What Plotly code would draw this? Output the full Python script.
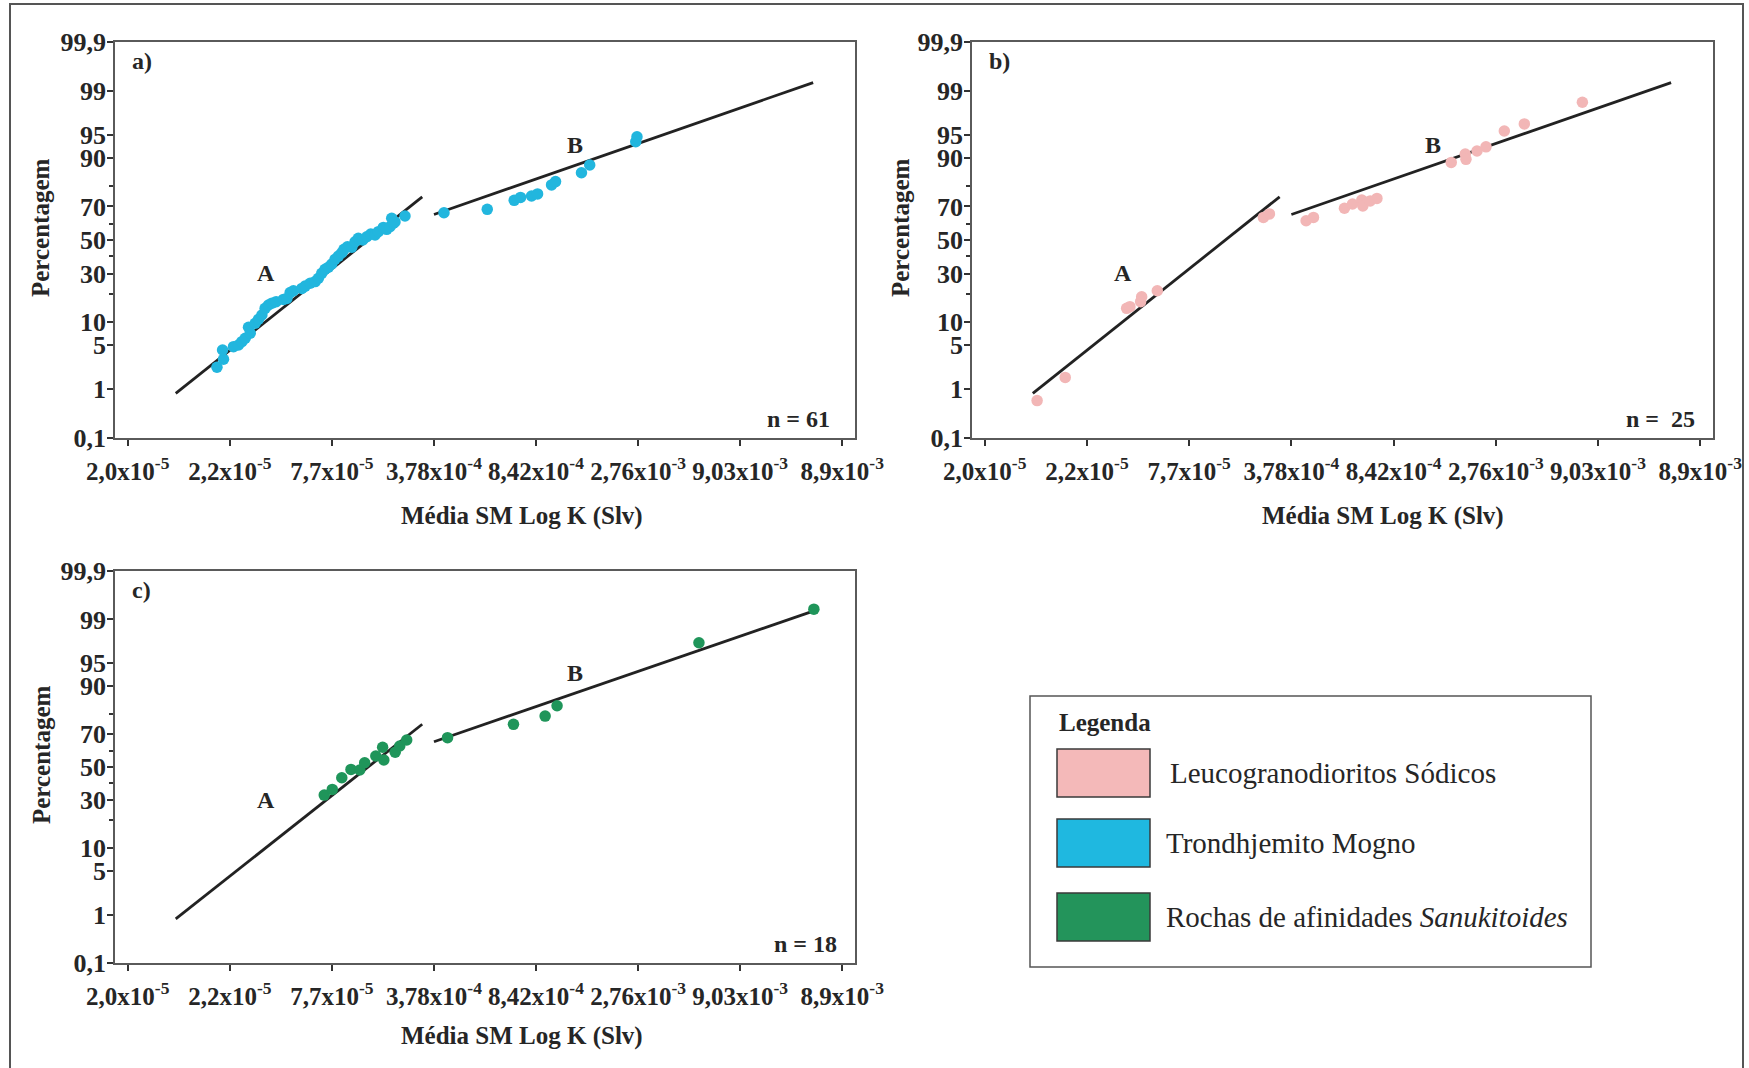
import plotly.graph_objects as go
from statistics import NormalDist

# ---------------- data ----------------
X_TICK_TEXT = ["2,0x10<sup>-5</sup>", "2,2x10<sup>-5</sup>", "7,7x10<sup>-5</sup>", "3,78x10<sup>-4</sup>",
               "8,42x10<sup>-4</sup>", "2,76x10<sup>-3</sup>", "9,03x10<sup>-3</sup>", "8,9x10<sup>-3</sup>"]
X_TICK_POS = [0, 1, 2, 3, 4, 5, 6, 7]
Y_TICK_PCT = [0.1, 1, 5, 10, 30, 50, 70, 90, 95, 99, 99.9]
Y_TICK_TEXT = ["0,1", "1", "5", "10", "30", "50", "70", "90", "95", "99", "99,9"]
Y_MINOR_PCT = [20, 40, 60, 80]

# a) Trondhjemito Mogno (n = 61)
a_x = [0.874, 0.938, 0.929, 1.036, 1.085, 1.118, 1.151, 1.183, 1.200, 1.249,
       1.281, 1.314, 1.346, 1.379, 1.412, 1.454, 1.525, 1.559, 1.591, 1.623,
       1.706, 1.738, 1.787, 1.836, 1.868, 1.901, 1.933, 1.966, 1.999, 2.031,
       2.064, 2.097, 2.119, 2.152, 2.195, 2.227, 2.259, 2.302, 2.342, 2.381,
       2.423, 2.455, 2.504, 2.537, 2.569, 2.586, 2.602, 2.618, 2.716,
       3.098, 3.522, 3.786, 3.848, 3.956, 4.015, 4.152, 4.191, 4.445, 4.526, 4.977, 4.989]
a_pct = [2.35, 3.13, 4.30, 4.8, 5.06, 5.63, 6.25, 8.66, 7.27, 9.68,
         10.8, 12.1, 14.3, 15.5, 16.2, 16.8, 17.7, 18.1, 20.6, 21.4,
         22.5, 23.6, 25.0, 25.8, 27.5, 30.2, 32.4, 33.5, 35.4, 38.2,
         40.1, 42.1, 44.2, 45.8, 45.5, 48.9, 51.1, 50.0, 52.0, 53.7,
         53.1, 55.2, 57.8, 56.6, 58.2, 63.3, 60.3, 61.1, 64.6,
         66.5, 68.4, 73.2, 74.7, 75.4, 76.4, 80.5, 81.9, 85.3, 87.9, 93.75, 94.65]

# b) Leucogranodioritos Sódicos (n = 25)
b_x = [0.512, 0.787, 1.388, 1.420, 1.525, 1.535, 1.688, 2.726, 2.785, 3.144, 3.216, 3.519, 3.598,
       3.689, 3.699, 3.771, 3.837, 4.564, 4.701, 4.708, 4.816, 4.904, 5.083, 5.279, 5.847]
b_pct = [0.61, 1.6, 14.3, 14.9, 16.8, 18.8, 21.4, 63.8, 65.8, 61.8, 63.8, 68.97, 71.3,
         73.4, 70.2, 72.9, 74.2, 88.7, 91.0, 89.6, 91.76, 92.7, 95.55, 96.5, 98.42]

# c) Rochas de afinidades Sanukitoides (n = 18)
c_x = [1.925, 2.004, 2.097, 2.187, 2.273, 2.321, 2.430, 2.497, 2.509, 2.620, 2.665, 2.733,
       3.133, 3.779, 4.089, 4.206, 5.596, 6.722]
c_pct = [32.9, 36.2, 43.3, 48.5, 48.1, 52.7, 56.9, 62.2, 54.4, 59.2, 63.0, 66.5,
         67.8, 74.96, 78.9, 83.3, 97.5, 99.36]

# fitted population lines (same in all panels)
LINE_A_X = [0.47, 2.885]
LINE_A_PCT = [0.83, 75.0]
LINE_B_X = [3.0, 6.715]
LINE_B_PCT = [65.5, 99.3]
LABEL_A = (1.35, 30.2)
LABEL_B = (4.385, 93.1)

N_LABELS = ["n = 61", "n = \u00a025", "n = 18"]
PANEL_LABELS = ["a)", "b)", "c)"]
LEGEND_NAMES = ["Leucogranodioritos Sódicos", "Trondhjemito Mogno",
                "Rochas de afinidades <i>Sanukitoides</i>"]

# ---------------- style ----------------
SERIF = "Liberation Serif, Times New Roman, serif"
TXT = "#262626"
COL_PINK = "#f2b6b6"
COL_CYAN = "#22b6de"
COL_GREEN = "#1f955a"
SW_PINK = "#f4b9b9"
SW_CYAN = "#1fb8e0"
SW_GREEN = "#23945b"
W, H = 1749, 1068

nd = NormalDist()


def probit(p):
    return nd.inv_cdf(p / 100.0)


def px(x):
    return x / W


def py(y):
    return 1 - y / H


fig = go.Figure()

panels = [
    ("x", "y", a_x, a_pct, COL_CYAN),
    ("x2", "y2", b_x, b_pct, COL_PINK),
    ("x3", "y3", c_x, c_pct, COL_GREEN),
]
for xa, ya, xs, ps, col in panels:
    fig.add_trace(go.Scatter(x=LINE_A_X, y=[probit(p) for p in LINE_A_PCT], mode="lines",
                             line=dict(color="#222222", width=2.8), xaxis=xa, yaxis=ya,
                             showlegend=False, hoverinfo="skip"))
    fig.add_trace(go.Scatter(x=LINE_B_X, y=[probit(p) for p in LINE_B_PCT], mode="lines",
                             line=dict(color="#222222", width=2.8), xaxis=xa, yaxis=ya,
                             showlegend=False, hoverinfo="skip"))
    fig.add_trace(go.Scatter(x=xs, y=[probit(p) for p in ps], mode="markers",
                             marker=dict(color=col, size=11.5, line=dict(width=0)),
                             xaxis=xa, yaxis=ya, showlegend=False))

YR = probit(99.9) + 0.0005

xcommon = dict(range=[-0.125, 7.125], tickmode="array", tickvals=X_TICK_POS, ticktext=X_TICK_TEXT,
               showline=True, mirror=True, linecolor="#5a5a5a", linewidth=1.5,
               ticks="outside", ticklen=6, tickwidth=2, tickcolor="#333", tickangle=0, automargin=False,
               showgrid=False, zeroline=False, ticklabelstandoff=4,
               tickfont=dict(family=SERIF, size=25, color=TXT, weight="bold"), fixedrange=True)
ycommon = dict(range=[-YR, YR], tickmode="array", tickvals=[probit(p) for p in Y_TICK_PCT],
               ticktext=Y_TICK_TEXT, showline=True, mirror=True, linecolor="#5a5a5a", linewidth=1.5,
               ticks="outside", ticklen=6, tickwidth=2, tickcolor="#333", tickangle=0, automargin=False,
               minor=dict(tickvals=[probit(p) for p in Y_MINOR_PCT], ticks="outside", ticklen=4,
                          tickwidth=2, tickcolor="#333", showgrid=False),
               showgrid=False, zeroline=False, ticklabelstandoff=-4,
               tickfont=dict(family=SERIF, size=26, color=TXT, weight="bold"), fixedrange=True)

dom_a_x = [px(115), px(855)]
dom_b_x = [px(972), px(1713)]
dom_top_y = [py(438), py(42)]
dom_bot_y = [py(963), py(571)]

fig.update_layout(
    width=W, height=H, margin=dict(l=0, r=0, t=0, b=0, autoexpand=False),
    paper_bgcolor="white", plot_bgcolor="white", showlegend=False,
    xaxis=dict(xcommon, domain=dom_a_x, anchor="y"),
    yaxis=dict(ycommon, domain=dom_top_y, anchor="x"),
    xaxis2=dict(xcommon, domain=dom_b_x, anchor="y2"),
    yaxis2=dict(ycommon, domain=dom_top_y, anchor="x2"),
    xaxis3=dict(xcommon, domain=dom_a_x, anchor="y3"),
    yaxis3=dict(ycommon, domain=dom_bot_y, anchor="x3"),
)

ann = []
bold = dict(family=SERIF, size=24, color=TXT, weight="bold")
suffix = ["", "2", "3"]
n_xpos = [0.969, 0.979, 0.978]
for i, s in enumerate(suffix):
    ann.append(dict(text=PANEL_LABELS[i], xref=f"x{s} domain", yref=f"y{s} domain", x=0.02, y=0.952,
                    xanchor="left", yanchor="middle", showarrow=False, font=bold))
    ann.append(dict(text=N_LABELS[i], xref=f"x{s} domain", yref=f"y{s} domain", x=n_xpos[i], y=0.048,
                    xanchor="right", yanchor="middle", showarrow=False, font=bold))
    ann.append(dict(text="A", xref=f"x{s}", yref=f"y{s}", x=LABEL_A[0], y=probit(LABEL_A[1]),
                    xanchor="center", yanchor="middle", showarrow=False, font=bold))
    ann.append(dict(text="B", xref=f"x{s}", yref=f"y{s}", x=LABEL_B[0], y=probit(LABEL_B[1]),
                    xanchor="center", yanchor="middle", showarrow=False, font=bold))

# axis titles
for (xc, yc) in [(41, 228), (901, 228), (41, 755)]:
    ann.append(dict(text="Percentagem", xref="paper", yref="paper", x=px(xc), y=py(yc),
                    xanchor="center", yanchor="middle", textangle=-90, showarrow=False,
                    font=dict(family=SERIF, size=25, color=TXT, weight="bold")))
for (xc, yc) in [(522, 516), (1383, 516), (522, 1036)]:
    ann.append(dict(text="Média SM Log K (Slv)", xref="paper", yref="paper", x=px(xc), y=py(yc),
                    xanchor="center", yanchor="middle", showarrow=False,
                    font=dict(family=SERIF, size=25, color=TXT, weight="bold")))

# legend
ann.append(dict(text="Legenda", xref="paper", yref="paper", x=px(1057), y=py(722), xanchor="left",
                yanchor="middle", showarrow=False, font=dict(family=SERIF, size=25, color=TXT, weight="bold")))
leg_y = [773, 843, 917]
leg_tx = [1168, 1164, 1164]
for name, yc, tx in zip(LEGEND_NAMES, leg_y, leg_tx):
    ann.append(dict(text=name, xref="paper", yref="paper", x=px(tx), y=py(yc), xanchor="left",
                    yanchor="middle", showarrow=False, font=dict(family=SERIF, size=29, color=TXT)))

shapes = [
    dict(type="rect", xref="paper", yref="paper", x0=px(10), x1=px(1743), y0=py(1080), y1=py(4),
         line=dict(color="#555", width=2), fillcolor="rgba(0,0,0,0)", layer="below"),
    dict(type="rect", xref="paper", yref="paper", x0=px(1030), x1=px(1591), y0=py(967), y1=py(696),
         line=dict(color="#555", width=1.5), fillcolor="rgba(0,0,0,0)"),
]
for col, (y0, y1) in zip([SW_PINK, SW_CYAN, SW_GREEN], [(749, 797), (819, 867), (893, 941)]):
    shapes.append(dict(type="rect", xref="paper", yref="paper", x0=px(1057), x1=px(1150),
                       y0=py(y1), y1=py(y0), line=dict(color="#3a3a3a", width=1.5), fillcolor=col))

fig.update_layout(annotations=ann, shapes=shapes)
fig.write_html("out.html", config={"displayModeBar": False},
               post_script="document.body.style.margin='0px';")
